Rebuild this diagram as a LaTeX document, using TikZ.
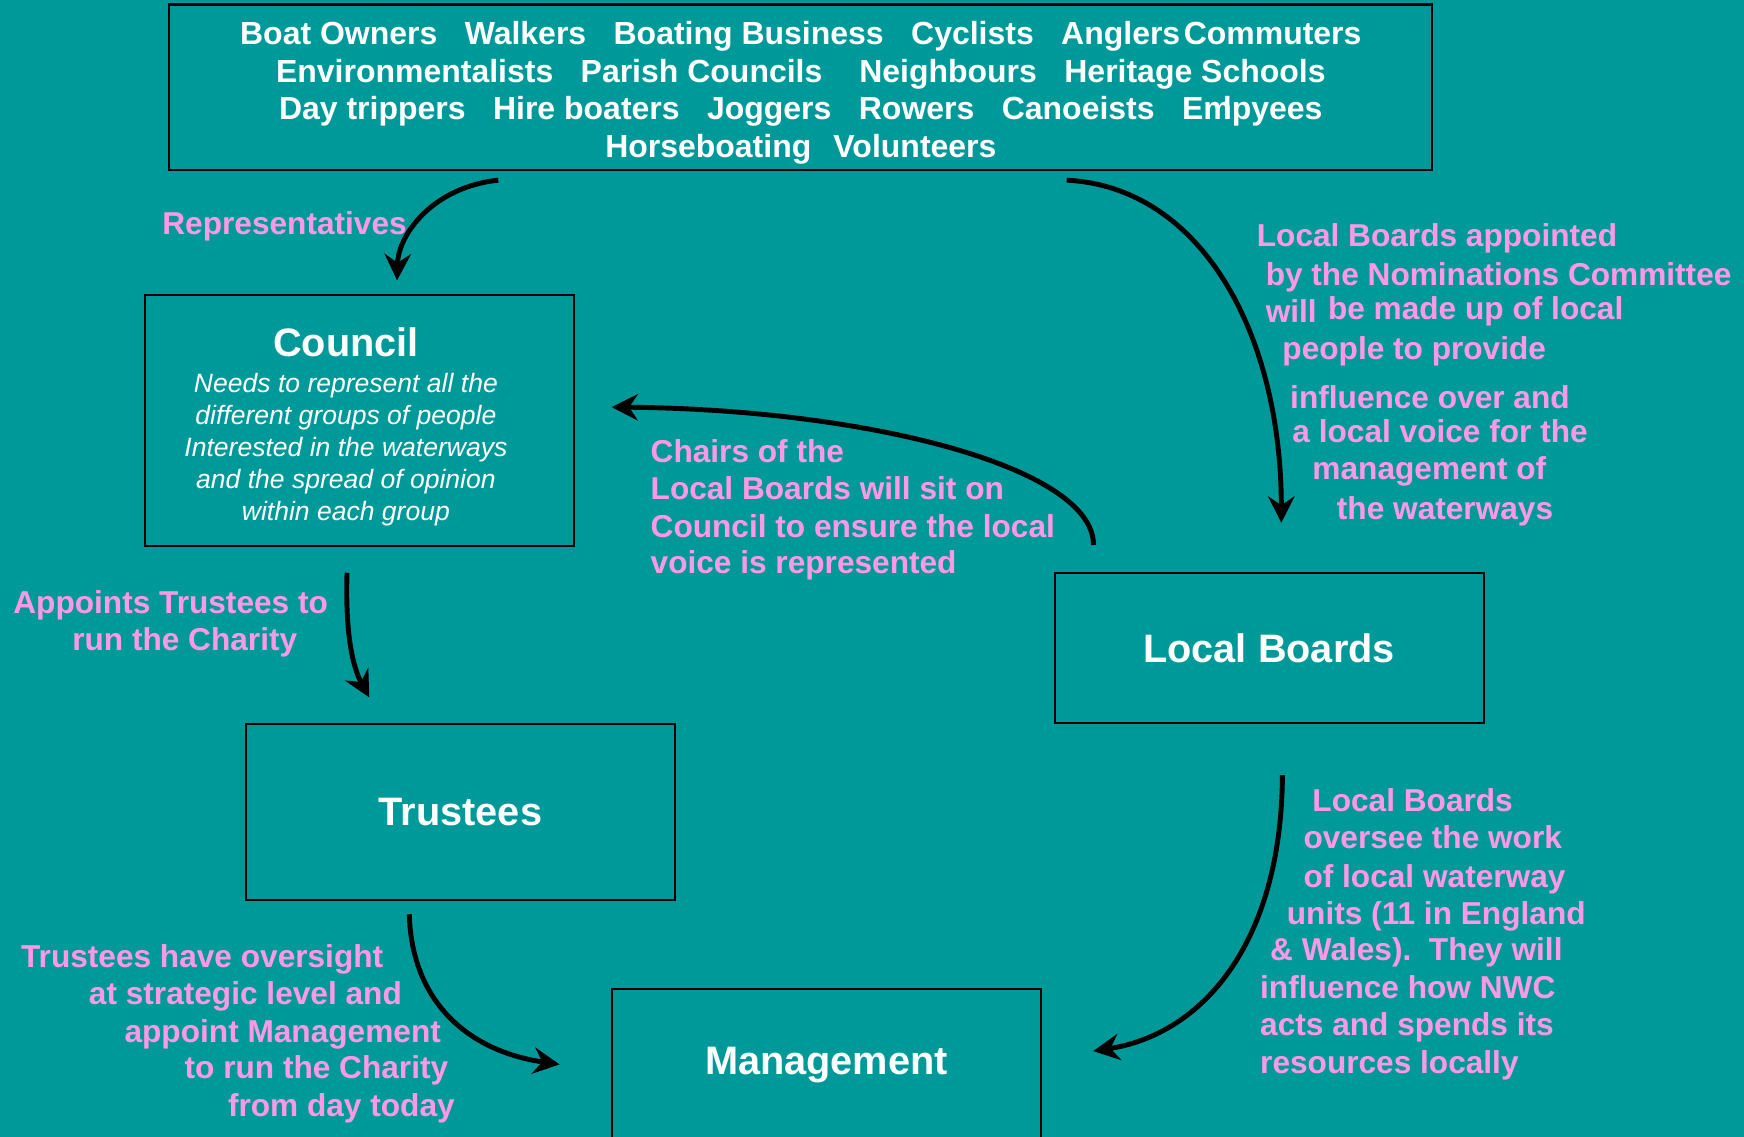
\documentclass[tikz,border=0pt]{standalone}
\usepackage{fontspec}
\setmainfont{Liberation Sans}
\usetikzlibrary{positioning,calc,arrows.meta}
\definecolor{canalteal}{RGB}{0,153,153}
\definecolor{labelpink}{RGB}{255,153,230}
\newcommand{\boardwidth}{4.29cm}
\newcommand{\groupwidth}{12.63cm}
\newcommand{\groupheight}{1.657cm}
\newcommand{\wgap}{\hspace{7.8pt}}

\begin{document}
\begin{tikzpicture}[x=0.01112cm, y=-0.01112cm, outer sep=0pt]
\tikzstyle{board}=[
    draw=black,
    line width=0.6pt,
    rectangle,
    minimum width=\boardwidth,
    inner sep=0pt,
    text=white,
    font=\bfseries\fontsize{11.3}{13.5}\selectfont]
\tikzstyle{note}=[
    text=labelpink,
    font=\bfseries\fontsize{9}{10.6}\selectfont,
    anchor=west,
    inner sep=0pt,
    text height=8.7pt,
    text depth=1.8pt]
\tikzstyle{link}=[
    draw=black,
    line width=1.4pt,
    -{Stealth[length=7.5pt, width=7.5pt, inset=2.5pt]}]
\useasboundingbox (0,0) rectangle (1568,1022);
\fill[canalteal] (0,0) rectangle (1568,1022);
\clip (0,0) rectangle (1568,1022);

\node[draw=black, line width=0.6pt, rectangle, minimum width=\groupwidth, minimum height=\groupheight,
    inner sep=0pt, align=center, text=white, font=\bfseries\fontsize{9.1}{10.66}\selectfont]
    (groups) at (720,78.5) {\rule{0pt}{9.8pt}Boat Owners\wgap Walkers\wgap Boating Business\wgap Cyclists\wgap Anglers\hspace{1pt}Commuters\\
    Environmentalists\wgap Parish Councils\hspace{10.5pt}Neighbours\wgap Heritage Schools\\
    Day trippers\wgap Hire boaters\wgap Joggers\wgap Rowers\wgap Canoeists\wgap Em\llap{l}pyees\\
    Horseboating\hspace{6.3pt}Volunteers};

\node[board, minimum height=2.513cm] (council) at (323,378) {};
\node[text=white, inner sep=0pt, font=\bfseries\fontsize{11.3}{13.5}\selectfont] (councilTitle) at (311,308) {Council};
\node[text=white, inner sep=0pt, align=center, font=\itshape\fontsize{7.55}{9.1}\selectfont] (councilNote) at (311,404)
    {Needs to represent all the\\different groups of people\\Interested in the waterways\\and the spread of opinion\\within each group};
\node[board, minimum height=1.501cm] (localBoards) at (1141,582.5) {Local Boards};
\node[board, minimum height=1.757cm] (trustees) at (414,730) {Trustees};
\node[board, minimum height=1.52cm, anchor=north] (management) at (743,889) {Management};

% connectors
\draw[link] ($(groups.south)+(-272,9)$) .. controls ($(groups.south)+(-330,15)$) and ($(council.north)+(35,-55)$) .. ($(council.north)+(34,-13)$);
\draw[link] ($(groups.south)+(239,9)$) .. controls ($(groups.south)+(360,15)$) and ($(localBoards.north)+(11,-215)$) .. ($(localBoards.north)+(11,-45)$);
\draw[link] ($(localBoards.north west)+(35,-25)$) .. controls ($(localBoards.north west)+(35,-95)$) and ($(council.east)+(264,-10)$) .. ($(council.east)+(34,-12)$);
\draw[link] ($(council.south)+(-11,24)$) .. controls ($(council.south)+(-13,89)$) and ($(trustees.north)+(-94,-46)$) .. ($(trustees.north)+(-82,-24)$);
\draw[link] ($(trustees.south)+(-46,13)$) .. controls ($(trustees.south)+(-44,91)$) and ($(management.north west)+(-130,56)$) .. ($(management.north west)+(-47,68)$);
\draw[link] ($(localBoards.south)+(12,47)$) .. controls ($(localBoards.south)+(11,200)$) and ($(management.north east)+(144,41)$) .. ($(management.north east)+(47,56)$);

% labels
\node[note] (represent) at (146,200) {Representatives};

\node[note] (appoint1) at (1130,211) {Local Boards appointed};
\node[note] (appoint2) at (1138,246) {by the Nominations Committee};
\node[note] (appoint3) at (1138,279) {will};
\node[note] (appoint4) at (1194,276) {be made up of local};
\node[note] (appoint5) at (1153,312) {people to provide};
\node[note] (appoint6) at (1160,356) {influence over and};
\node[note] (appoint7) at (1162,387) {a local voice for the};
\node[note] (appoint8) at (1180,420) {management of};
\node[note] (appoint9) at (1202,456) {the waterways};

\node[note] (chairs1) at (585,405) {Chairs of the};
\node[note] (chairs2) at (585,438) {Local Boards will sit on};
\node[note] (chairs3) at (585,472) {Council to ensure the local};
\node[note] (chairs4) at (585,505) {voice is represented};

\node[note] (trusteeRun1) at (12,541) {Appoints Trustees to};
\node[note] (trusteeRun2) at (65,574) {run the Charity};

\node[note] (oversight1) at (19,859) {Trustees have oversight};
\node[note] (oversight2) at (80,892) {at strategic level and};
\node[note] (oversight3) at (112,926) {appoint Management};
\node[note] (oversight4) at (166,959) {to run the Charity};
\node[note] (oversight5) at (205,993) {from day today};

\node[note] (oversee1) at (1180,719) {Local Boards};
\node[note] (oversee2) at (1172,752) {oversee the work};
\node[note] (oversee3) at (1172,787) {of local waterway};
\node[note] (oversee4) at (1157,820) {units (11 in England};
\node[note] (oversee5) at (1142,853) {\& Wales).\ \ They will};
\node[note] (oversee6) at (1133,887) {influence how NWC};
\node[note] (oversee7) at (1133,920) {acts and spends its};
\node[note] (oversee8) at (1133,954) {resources locally};

\end{tikzpicture}
\end{document}
